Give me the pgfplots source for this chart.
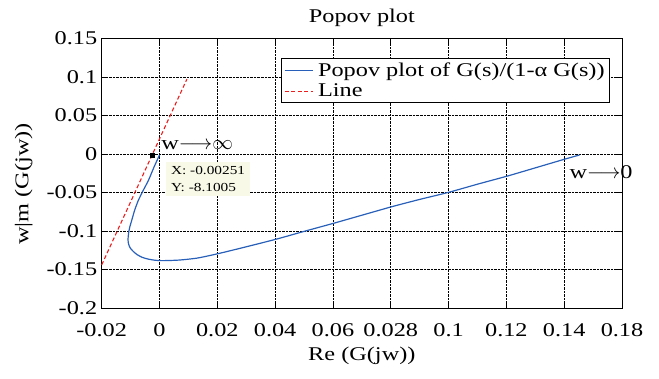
\documentclass[border=0pt]{standalone}
\usepackage{fontspec}
\setmainfont{Liberation Serif}[FakeStretch=1.25]
\usepackage{pgfplots}
\pgfplotsset{compat=1.18}
\definecolor{mblue}{RGB}{40,95,185}
\definecolor{mred}{RGB}{235,30,30}
\definecolor{tipyellow}{RGB}{249,249,231}
\begin{document}
\begin{tikzpicture}
\begin{axis}[
  scale only axis, clip=false,
  width=520.3bp, height=269.5bp,
  xmin=-0.02, xmax=0.16, ymin=-0.2, ymax=0.15,
  xtick={-0.02,0,0.02,0.04,0.06,0.08,0.1,0.12,0.14,0.16},
  xticklabels={-0.02,0,0.02,0.04,0.06,0.028,0.1,0.12,0.14,0.18},
  ytick={-0.2,-0.15,-0.1,-0.05,0,0.05,0.1,0.15},
  yticklabels={-0.2,-0.15,-0.1,-0.05,0,0.05,0.1,0.15},
  font=\fontsize{19.5}{22}\selectfont,
  tick align=inside, tick pos=both, major tick length=5bp,
  grid=major, grid style={black, densely dotted, line width=0.6pt},
  axis line style={black, line width=0.8pt},
  tick style={black, line width=0.6pt},
  xticklabel style={yshift=-12bp},
  yticklabel style={xshift=-1bp},
  title={Popov plot},
  title style={at={(axis description cs:0.5,1.055)}, anchor=center},
  xlabel={Re (G(jw))},
  xlabel style={at={(axis description cs:0.5,-0.178)}, anchor=center},
  ylabel={w|m (G(jw))},
  ylabel style={at={(axis description cs:-0.150,0.46)}, anchor=center},
  legend style={at={(0.977,0.926)}, anchor=north east, draw=black, line width=0.8pt,
    font=\fontsize{19.5}{22}\selectfont, inner xsep=3bp, inner ysep=2bp, row sep=2bp,
    column sep=3bp, cells={anchor=west}},
  legend image code/.code={\draw[#1, line width=0.7pt] (0bp,0bp) -- (28bp,0bp);},
]
\addplot[mblue, line width=1.2pt, smooth, tension=0.4] coordinates {
(0.0,-0.0013) (-0.0019,-0.017) (-0.0038,-0.034) (-0.0056,-0.047) (-0.0073,-0.060)
(-0.0086,-0.073) (-0.0096,-0.086) (-0.0103,-0.095) (-0.0107,-0.103) (-0.0109,-0.111)
(-0.0107,-0.117) (-0.0101,-0.1222) (-0.0090,-0.1268) (-0.0077,-0.1308) (-0.0060,-0.1342)
(-0.0038,-0.1366) (-0.0015,-0.1380) (0.0010,-0.1385) (0.0066,-0.1378) (0.0130,-0.1352)
(0.0202,-0.1295) (0.0300,-0.1205) (0.0406,-0.1104) (0.0500,-0.1005) (0.0602,-0.0900)
(0.0700,-0.0795) (0.0804,-0.0684) (0.0900,-0.0590) (0.1000,-0.0498) (0.1100,-0.0392)
(0.1204,-0.0286) (0.1300,-0.0180) (0.1400,-0.0069) (0.1453,-0.0013)
};
\addlegendentry{Popov plot of G(s)/(1-α G(s))}
\addplot[mred, dash pattern=on 4bp off 2.5bp, line width=1.1pt] coordinates {(-0.02,-0.144) (0.0095,0.0974)};
\addlegendentry{Line}
\addplot[only marks, mark=square*, mark size=1.8bp, black, forget plot] coordinates {(-0.00251,-0.0013)};
\node[fill=tipyellow, anchor=north west, inner xsep=5bp, inner ysep=4bp, align=left,
  font=\fontsize{12.3}{18}\selectfont] at (axis cs:0.0022,-0.010) {X: -0.00251\\Y: -8.1005};
\node[anchor=west, inner sep=0pt] at (axis cs:0.0006,0.0117) {w$\mathord{\longrightarrow}\mathord{\infty}$};
\node[anchor=west, inner sep=0pt] at (axis cs:0.1418,-0.023) {w$\mathord{\longrightarrow}$0};
\end{axis}
\pgfresetboundingbox
\path (current axis.south west) ++(-101.7bp,-71bp) rectangle ++(659bp,379bp);
\end{tikzpicture}
\end{document}
